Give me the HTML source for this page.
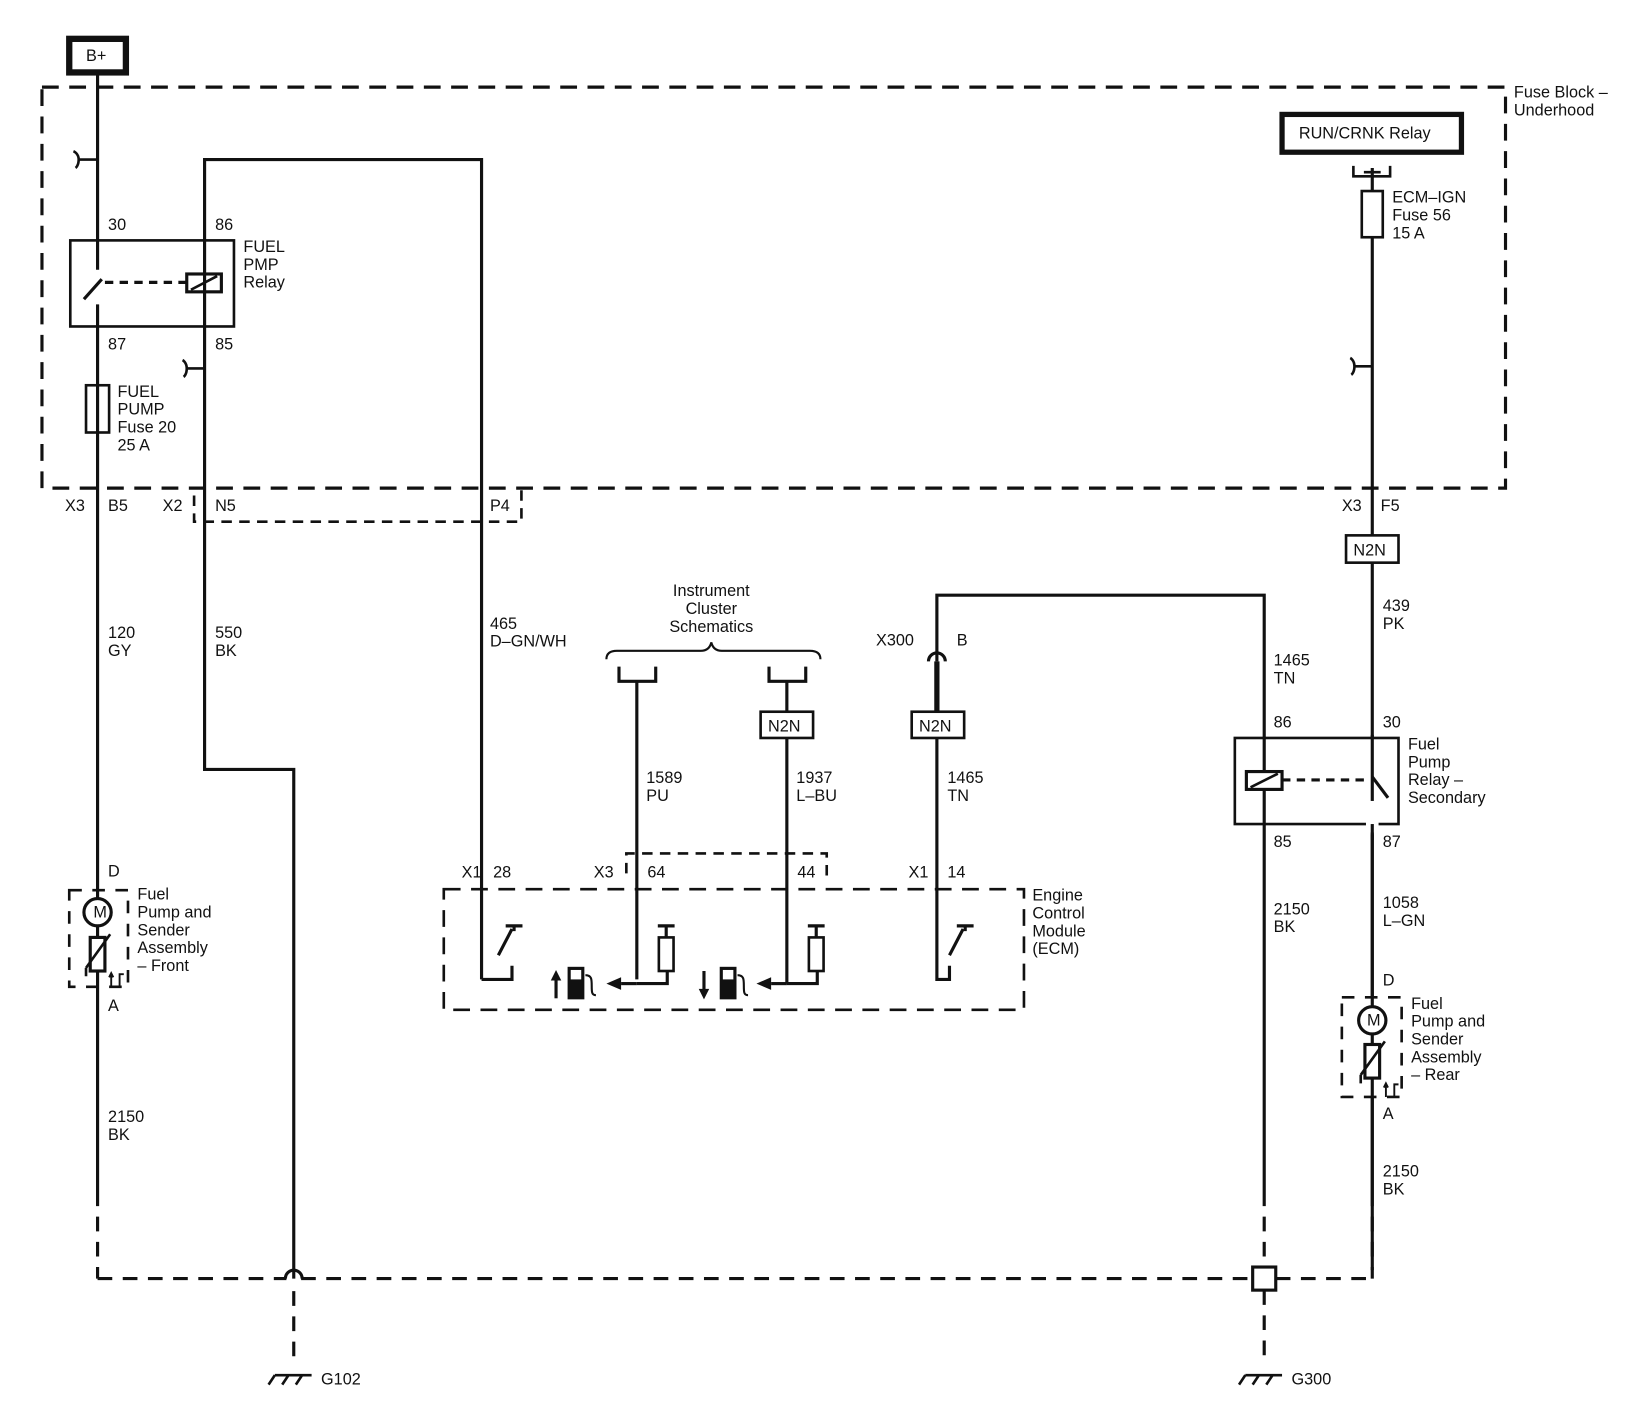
<!DOCTYPE html>
<html><head><meta charset="utf-8"><style>
html,body{margin:0;padding:0;background:#fff;}
svg{display:block;}
text{font-family:"Liberation Sans",Arial,sans-serif;font-size:15.5px;fill:#111;}
</style></head><body>
<svg width="1644" height="1414" viewBox="0 0 1567 1347" preserveAspectRatio="none" xmlns="http://www.w3.org/2000/svg">
<g fill="none" stroke="#111" stroke-width="3">
<rect x="66" y="37" width="54" height="32" stroke-width="6"/>
<rect x="40" y="83" width="1395" height="382" stroke-dasharray="16 10" stroke-width="3"/>
<line x1="93" y1="69" x2="93" y2="257"/>
<line x1="93" y1="290" x2="93" y2="1135"/>
<line x1="93" y1="1135" x2="93" y2="1218" stroke-dasharray="14 10"/>
<path d="M93 152 H75 M75 152 c0-6-5-8-5-8 M75 152 c0 6-3 8-3 8" stroke-width="2.5"/>
<line x1="80" y1="285" x2="97" y2="266"/>
<line x1="100" y1="269" x2="178" y2="269" stroke-dasharray="8 6"/>
<rect x="67" y="229" width="156" height="82" stroke-width="2.5"/>
<rect x="178" y="261" width="33" height="17" stroke-width="3"/>
<line x1="182" y1="276" x2="207" y2="263" stroke-width="2.5"/>
<polyline points="459,933 459,152 195,152 195,733 280,733 280,1218"/>
<line x1="280" y1="1230" x2="280" y2="1300" stroke-dasharray="14 10"/>
<path d="M195 351 H178 M178 351 c0-6-4-8-4-8 M178 351 c0 6-3 8-3 8" stroke-width="2.5"/>
<rect x="82" y="367" width="22" height="45" stroke-width="2.5"/>
<polyline points="185,472 185,497 497,497 497,465" stroke-dasharray="10 7" stroke-width="2.5"/>
<rect x="66" y="848" width="56" height="92" stroke-dasharray="12 10" stroke-width="2.5"/>
<circle cx="93" cy="869" r="13" fill="#fff"/>
<rect x="86" y="893" width="14" height="32" fill="#fff"/>
<path d="M82 922 L105 890 M82 922 v8" stroke-width="2.5"/>
<path d="M106 940 v-12 M104 931 l2-4 2 4 M114 940 v-12 h4" stroke-width="1.8"/>
<path d="M93 1218 H273 M287 1218 H1194 M1216 1218 H1308" stroke-dasharray="14 10"/>
<path d="M272 1218 a8 8 0 0 1 16 0"/>
<rect x="1194" y="1207" width="22" height="22" fill="#fff"/>
<path d="M262 1310 h35 M262 1310 l-6 9 M275 1310 l-6 9 M288 1310 l-6 9" stroke-width="2.5"/>
<path d="M1187 1310 h35 M1187 1310 l-6 9 M1200 1310 l-6 9 M1213 1310 l-6 9" stroke-width="2.5"/>
<line x1="1205" y1="1229" x2="1205" y2="1300" stroke-dasharray="14 10"/>
<path d="M578 628 q0-8 10-8 h80 q8 0 10-8 q2 8 10 8 h84 q10 0 10 8" stroke-width="2"/>
<path d="M590 635 v14 h35 v-14 M607 649 V933 M733 635 v14 h35 v-14 M750 649 V678"/>
<rect x="725" y="678" width="50" height="25" stroke-width="2.5"/>
<line x1="750" y1="703" x2="750" y2="937"/>
<path d="M885 630 a8 8 0 0 1 16 0" stroke-width="3"/>
<line x1="893" y1="630" x2="893" y2="678" stroke-width="5"/>
<rect x="869" y="678" width="50" height="25" stroke-width="2.5"/>
<polyline points="893,703 893,933 905,933 905,920"/>
<polyline points="893,630 893,567 1205,567 1205,1135"/>
<line x1="1205" y1="1135" x2="1205" y2="1207" stroke-dasharray="14 10"/>
<rect x="423" y="847" width="553" height="115" stroke-dasharray="16 10" stroke-width="2.5"/>
<polyline points="597,832 597,813 788,813 788,840" stroke-dasharray="10 7" stroke-width="2.5"/>
<polyline points="459,933 488,933 488,920"/>
<path d="M475 910 L488 885 M482 882 h16 M490 882 v5"/>
<path d="M905 910 L918 885 M912 882 h16 M920 882 v5"/>
<path d="M607 937 H636 V925 M627 882 h16 M635 882 v11"/>
<rect x="628" y="893" width="14" height="32" stroke-width="2.5"/>
<path d="M750 937 H779 V925 M770 882 h16 M778 882 v11"/>
<rect x="771" y="893" width="14" height="32" stroke-width="2.5"/>
<line x1="592" y1="937" x2="607" y2="937"/>
<line x1="735" y1="937" x2="750" y2="937"/>
<line x1="530" y1="951" x2="530" y2="932"/>
<line x1="671" y1="925" x2="671" y2="944"/>
<path d="M558 929 c6 0 6 4 6 10 s0 9 4 9" stroke-width="2"/>
<path d="M703 929 c6 0 6 4 6 10 s0 9 4 9" stroke-width="2"/>
<rect x="1222" y="109" width="171" height="36" stroke-width="5"/>
<path d="M1290 158 v10 h35 v-10 M1300 164 h16" stroke-width="2.5"/>
<line x1="1308" y1="160" x2="1308" y2="1030"/>
<rect x="1298" y="182" width="20" height="44" fill="#fff" stroke-width="2.5"/>
<path d="M1308 349 H1291 M1291 349 c0-6-4-8-4-8 M1291 349 c0 6-3 8-3 8" stroke-width="2.5"/>
<rect x="1283" y="510" width="50" height="26" fill="#fff" stroke-width="2.5"/>
<rect x="1177" y="703" width="156" height="82" fill="#fff" stroke-width="2.5"/>
<line x1="1205" y1="703" x2="1205" y2="785"/>
<line x1="1308" y1="700" x2="1308" y2="767"/>
<line x1="1308" y1="795" x2="1308" y2="1210"/>
<rect x="1188" y="735" width="34" height="17" fill="#fff"/>
<line x1="1192" y1="750" x2="1218" y2="737" stroke-width="2.5"/>
<line x1="1222" y1="743" x2="1300" y2="743" stroke-dasharray="8 6"/>
<path d="M1308 740 L1323 760" />
<rect x="1279" y="950" width="57" height="95" fill="#fff" stroke-dasharray="12 10" stroke-width="2.5"/>
<line x1="1308" y1="950" x2="1308" y2="1135"/>
<circle cx="1308" cy="972" r="13" fill="#fff"/>
<rect x="1301" y="995" width="14" height="32" fill="#fff"/>
<path d="M1297 1024 L1320 992 M1297 1024 v8" stroke-width="2.5"/>
<path d="M1321 1045 v-12 M1319 1036 l2-4 2 4 M1329 1045 v-12 h4" stroke-width="1.8"/>
<line x1="1308" y1="1135" x2="1308" y2="1218" stroke-dasharray="14 10"/>
</g>
<rect x="1302" y="763" width="12" height="30" fill="#fff"/>
<line x1="1308" y1="785" x2="1308" y2="800" stroke="#111" stroke-width="3"/>
<g fill="#111">
<polygon points="578,937 592,931 592,943"/>
<polygon points="721,937 735,931 735,943"/>
<polygon points="530,924 525,934 535,934"/>
<polygon points="671,952 666,942 676,942"/>
<rect x="541" y="921" width="16" height="31"/>
<rect x="686" y="921" width="16" height="31"/>
<rect x="544" y="924" width="10" height="9" fill="#fff"/>
<rect x="689" y="924" width="10" height="9" fill="#fff"/>
</g>
<g>
<text x="82" y="58">B+</text>
<text x="1443" y="93">Fuse Block –</text><text x="1443" y="110">Underhood</text>
<text x="103" y="219">30</text><text x="205" y="219">86</text>
<text x="103" y="333">87</text><text x="205" y="333">85</text>
<text x="232" y="240">FUEL</text><text x="232" y="257">PMP</text><text x="232" y="274">Relay</text>
<text x="112" y="378">FUEL</text><text x="112" y="395">PUMP</text><text x="112" y="412">Fuse 20</text><text x="112" y="429">25 A</text>
<text x="62" y="487">X3</text><text x="103" y="487">B5</text><text x="155" y="487">X2</text><text x="205" y="487">N5</text><text x="467" y="487">P4</text>
<text x="1279" y="487">X3</text><text x="1316" y="487">F5</text>
<text x="1290" y="529">N2N</text><text x="732" y="697">N2N</text><text x="876" y="697">N2N</text>
<text x="103" y="608">120</text><text x="103" y="625">GY</text>
<text x="205" y="608">550</text><text x="205" y="625">BK</text>
<text x="467" y="599">465</text><text x="467" y="616">D–GN/WH</text>
<text x="678" y="568" text-anchor="middle">Instrument</text><text x="678" y="585" text-anchor="middle">Cluster</text><text x="678" y="602" text-anchor="middle">Schematics</text>
<text x="835" y="615">X300</text><text x="912" y="615">B</text>
<text x="1214" y="634">1465</text><text x="1214" y="651">TN</text>
<text x="1318" y="582">439</text><text x="1318" y="599">PK</text>
<text x="1327" y="193">ECM–IGN</text><text x="1327" y="210">Fuse 56</text><text x="1327" y="227">15 A</text>
<text x="1238" y="132">RUN/CRNK Relay</text>
<text x="616" y="746">1589</text><text x="616" y="763">PU</text>
<text x="759" y="746">1937</text><text x="759" y="763">L–BU</text>
<text x="903" y="746">1465</text><text x="903" y="763">TN</text>
<text x="1214" y="693">86</text><text x="1318" y="693">30</text>
<text x="1214" y="807">85</text><text x="1318" y="807">87</text>
<text x="1342" y="714">Fuel</text><text x="1342" y="731">Pump</text><text x="1342" y="748">Relay –</text><text x="1342" y="765">Secondary</text>
<text x="440" y="836">X1</text><text x="470" y="836">28</text><text x="566" y="836">X3</text><text x="617" y="836">64</text><text x="760" y="836">44</text><text x="866" y="836">X1</text><text x="903" y="836">14</text>
<text x="984" y="858">Engine</text><text x="984" y="875">Control</text><text x="984" y="892">Module</text><text x="984" y="909">(ECM)</text>
<text x="103" y="835">D</text><text x="103" y="963">A</text>
<text x="131" y="857">Fuel</text><text x="131" y="874">Pump and</text><text x="131" y="891">Sender</text><text x="131" y="908">Assembly</text><text x="131" y="925">– Front</text>
<text x="89" y="874" font-size="13">M</text>
<text x="1214" y="871">2150</text><text x="1214" y="888">BK</text>
<text x="1318" y="865">1058</text><text x="1318" y="882">L–GN</text>
<text x="1318" y="939">D</text><text x="1318" y="1066">A</text>
<text x="1345" y="961">Fuel</text><text x="1345" y="978">Pump and</text><text x="1345" y="995">Sender</text><text x="1345" y="1012">Assembly</text><text x="1345" y="1029">– Rear</text>
<text x="1303" y="977" font-size="13">M</text>
<text x="103" y="1069">2150</text><text x="103" y="1086">BK</text>
<text x="1318" y="1121">2150</text><text x="1318" y="1138">BK</text>
<text x="306" y="1319">G102</text><text x="1231" y="1319">G300</text>
</g>
</svg>
</body></html>
